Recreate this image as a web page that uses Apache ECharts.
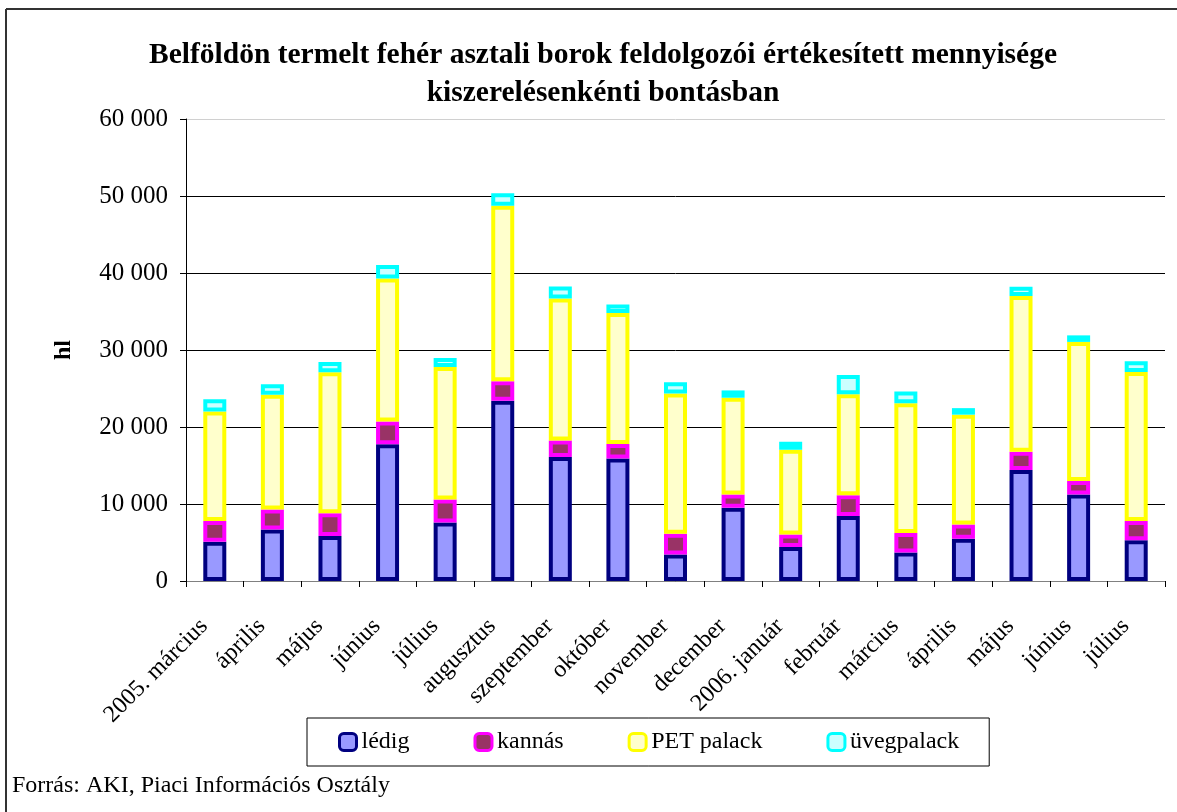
<!DOCTYPE html>
<html>
<head>
<meta charset="utf-8">
<script src="https://cdn.jsdelivr.net/npm/echarts@6/dist/echarts.min.js"></script>
<style>
html,body{margin:0;padding:0;background:#fff;}
#chart{width:1177px;height:812px;}
</style>
</head>
<body>
<div id="chart"></div>
<script>
const categories = ['2005. március','április','május','június','július','augusztus','szeptember','október','november','december','2006. január','február','március','április','május','június','július'];
const ledig  = [5100, 6700, 5850, 17750, 7600, 23400, 16100, 15900, 3450, 9500, 4400, 8450, 3700, 5500, 14400, 11250, 5300];
const kannas = [2700, 2600, 2950, 2950, 3000, 2550, 2150, 1900, 2700, 1750, 1650, 2700, 2550, 1850, 2400, 1750, 2500];
const pet    = [14200, 14900, 18300, 18600, 17200, 22800, 18450, 17000, 18200, 12550, 11000, 13100, 16850, 14250, 20200, 18050, 19350];
const uveg   = [1600, 1350, 1350, 1750, 1150, 1600, 1550, 1100, 1450, 950, 1050, 2500, 1500, 850, 1200, 850, 1400];
const seriesNames = ['lédig','kannás','PET palack','üvegpalack'];
const yTicks = [0, 10000, 20000, 30000, 40000, 50000, 60000];

const FONT = 'Liberation Serif';
const chart = echarts.init(document.getElementById('chart'), null, {renderer:'canvas'});

function mk(name, data, border, fill){
  return {
    name, type:'bar', stack:'total', data,
    barWidth: 23,
    itemStyle:{color:fill, borderColor:border, borderWidth:4},
    emphasis:{disabled:true}
  };
}

chart.setOption({
  animation:false,
  title:{
    text:'Belföldön termelt fehér asztali borok feldolgozói értékesített mennyisége\nkiszerelésenkénti bontásban',
    left:598, top:31, textAlign:'center',
    textStyle:{fontFamily:FONT, fontWeight:'bold', fontSize:29.5, color:'#000', lineHeight:38}
  },
  grid:{left:186, right:12, top:119, bottom:231, containLabel:false},
  legend:{
    data:seriesNames,
    left:307, top:718,
    padding:[12,30,12,31],
    itemGap:64,
    itemWidth:17, itemHeight:17,
    borderColor:'#000', borderWidth:1,
    textStyle:{fontFamily:FONT, fontSize:24, color:'#000'},
    itemStyle:{borderWidth:3}
  },
  xAxis:{
    type:'category', data:categories,
    axisLine:{lineStyle:{color:'#808080', width:1}},
    axisTick:{show:true, length:6, lineStyle:{color:'#000'}},
    axisLabel:{rotate:45, fontFamily:FONT, fontSize:24, color:'#000', margin:31, interval:0, padding:[0,15,0,0]}
  },
  yAxis:{
    type:'value', min:yTicks[0], max:yTicks[yTicks.length-1], interval:10000,
    name:'hl', nameLocation:'middle', nameRotate:90, nameGap:110,
    nameTextStyle:{fontFamily:FONT, fontSize:24, fontWeight:'bold', color:'#000'},
    axisLine:{show:true, lineStyle:{color:'#000', width:1}},
    axisTick:{show:true, length:6, lineStyle:{color:'#000'}},
    axisLabel:{fontFamily:FONT, fontSize:25, color:'#000', margin:18,
      formatter:v=>String(v).replace(/\B(?=(\d{3})+(?!\d))/g,' ')},
    splitLine:{show:true, lineStyle:{color:['#000','#000','#000','#000','#000','#000','#d0d0d0'], width:1}}
  },
  series:[
    mk(seriesNames[0], ledig, '#000080', '#9999FF'),
    mk(seriesNames[1], kannas, '#FF00FF', '#993366'),
    mk(seriesNames[2], pet, '#FFFF00', '#FFFFCC'),
    mk(seriesNames[3], uveg, '#00FFFF', '#CCFFFF')
  ],
  graphic:[
    {type:'line', shape:{x1:6, y1:9, x2:1177, y2:9}, style:{stroke:'#333', lineWidth:2}},
    {type:'line', shape:{x1:6, y1:9, x2:6, y2:812}, style:{stroke:'#333', lineWidth:2}},
    {type:'text', left:12, top:774, style:{text:'Forrás: AKI, Piaci Információs Osztály', fontFamily:FONT, fontSize:24, fill:'#000'}}
  ]
});
</script>
</body>
</html>
